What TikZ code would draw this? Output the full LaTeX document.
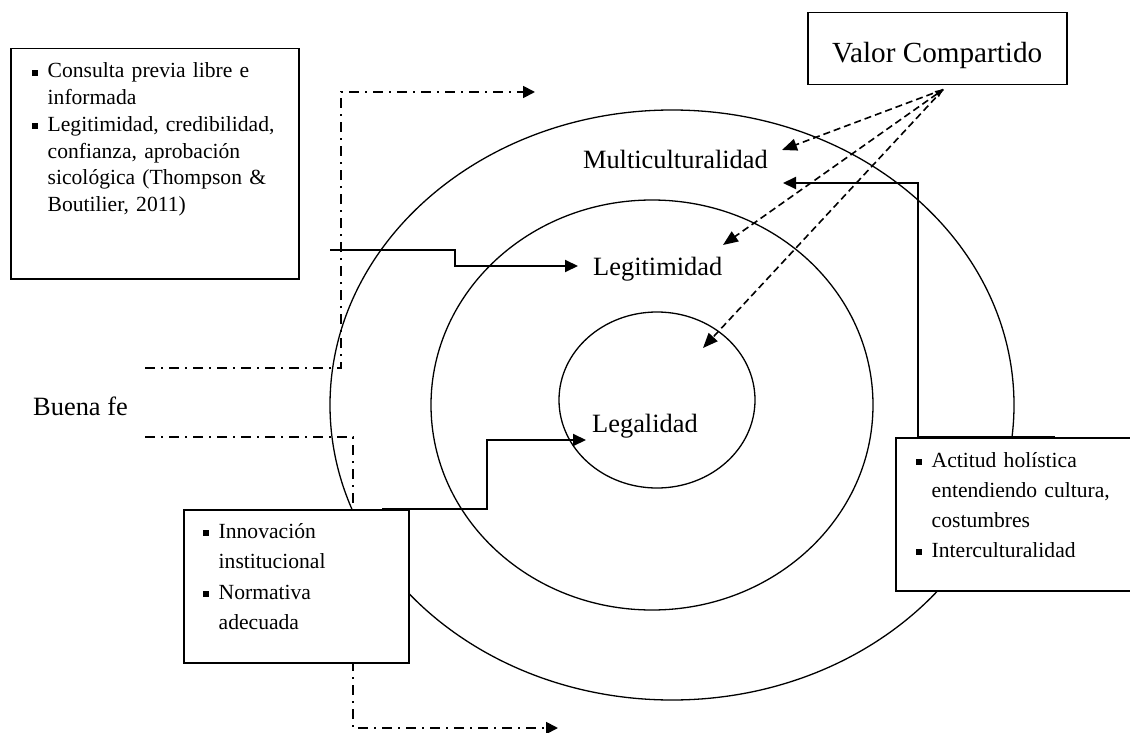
\documentclass[tikz,border=0pt]{standalone}
\usepackage{fontspec}
\setmainfont{Liberation Serif}
\usetikzlibrary{arrows.meta, positioning, shapes.geometric, calc}

\newcommand{\squareitem}{\noindent\hangindent=15.5pt\hangafter=1\relax\makebox[15.5pt][l]{\rule[0.1em]{0.28em}{0.28em}}}

\begin{document}
\begin{tikzpicture}[x=1pt, y=-1pt,
    ring/.style={draw, ellipse, line width=1.3pt, inner sep=0pt},
    frame/.style={draw, fill=white, line width=1.5pt, inner sep=0pt, anchor=north west},
    bullets/.style={anchor=base west, inner sep=0pt, align=left, font=\fontsize{21.6}{#1}\selectfont},
    ringtext/.style={inner sep=0pt, font=\fontsize{26.4}{30}\selectfont},
    link/.style={-{Triangle[length=13pt, width=12pt]}, line width=2pt},
    shared/.style={-{Triangle[length=15pt, width=12pt]}, dash pattern=on 7pt off 4pt, line width=1.6pt},
    flow/.style={-{Triangle[length=12pt, width=12pt]}, dash pattern=on 10pt off 6pt on 2pt off 6pt, line width=1.8pt}
  ]

  % Canvas
  \useasboundingbox (0,0) rectangle (1130,733);
  \clip (0,0) rectangle (1130,733);

  % Rings
  \node[ring, minimum width=684pt, minimum height=590pt] (outer) at (672,405) {};
  \node[ring, minimum width=442pt, minimum height=410pt] (middle) at (652,405) {};
  \node[ring, minimum width=196pt, minimum height=176pt] (inner) at (657,400) {};

  % Ring labels
  \node[ringtext, anchor=base east] (multi) at (768,168) {Multiculturalidad};
  \node[ringtext, anchor=base west] (legit) at (593,275) {Legitimidad};
  \node[ringtext, anchor=base west] (legal) at (592,432) {Legalidad};
  \node[ringtext, anchor=base east] (goodfaith) at (128,415) {Buena fe};

  % Buena fe flows
  \coordinate (faithtop) at (145,368);
  \coordinate (faithtopturn) at (341,92);
  \coordinate (faithtopend) at (535,92);
  \coordinate (faithlow) at (145,437);
  \coordinate (faithlowturn) at (353,728);
  \coordinate (faithlowend) at (558,728);
  \draw[flow] (faithtop) -| (faithtopturn) -- (faithtopend);
  \draw[flow] (faithlow) -| (faithlowturn) -- (faithlowend);

  % Valor Compartido
  \node[frame, minimum width=259pt, minimum height=72pt, text height=34pt, text depth=6pt,
    font=\fontsize{29.2}{34}\selectfont] (valor) at (807,12) {Valor Compartido};
  \coordinate (share) at ($(valor.south)+(6,4)$);
  \coordinate (multitip) at (782,150);
  \coordinate (legittip) at (723,245);
  \coordinate (legaltip) at (703,348);
  \draw[shared] (share) -- (multitip);
  \draw[shared, {Triangle[length=8pt, width=7pt]}-{Triangle[length=15pt, width=12pt]}] (share) -- (legittip);
  \draw[shared] (share) -- (legaltip);

  % Boxes
  \node[frame, minimum width=288pt, minimum height=230pt] (consentbox) at (10,48) {};
  \node[bullets=26.7, text width=255pt] (consentlist) at ($(consentbox.north west)+(22,30)$)
    {\squareitem Consulta previa libre e\newline informada\par
     \squareitem Legitimidad, credibilidad,\newline confianza, aprobación\newline sicológica (Thompson \&\newline Boutilier, 2011)\par};

  \node[frame, minimum width=225pt, minimum height=153pt] (innovbox) at (183,509) {};
  \node[bullets=30.5, text width=190pt] (innovlist) at ($(innovbox.north west)+(20,29)$)
    {\squareitem Innovación\newline institucional\par
     \squareitem Normativa\newline adecuada\par};

  \node[frame, minimum width=250pt, minimum height=153pt] (culturebox) at (895,437) {};
  \node[bullets=30, text width=210pt] (culturelist) at ($(culturebox.north west)+(21,30)$)
    {\squareitem Actitud holística\newline entendiendo cultura,\newline costumbres\par
     \squareitem Interculturalidad\par};

  % Links
  \coordinate (consentexit) at (330,250);
  \draw[link] (consentexit) -- ++(125,0) |- ($(legit.base west)+(-15,-9)$);
  \coordinate (cultureexit) at ($(culturebox.north west)+(160,0)$);
  \draw[link] (cultureexit) -- ++(-137,0) |- ($(multi.base east)+(15,15)$);
  \coordinate (innovexit) at ($(innovbox.north west)+(199,0)$);
  \draw[link] (innovexit) -- ++(105,0) |- ($(legal.base west)+(-6,8)$);

\end{tikzpicture}
\end{document}
